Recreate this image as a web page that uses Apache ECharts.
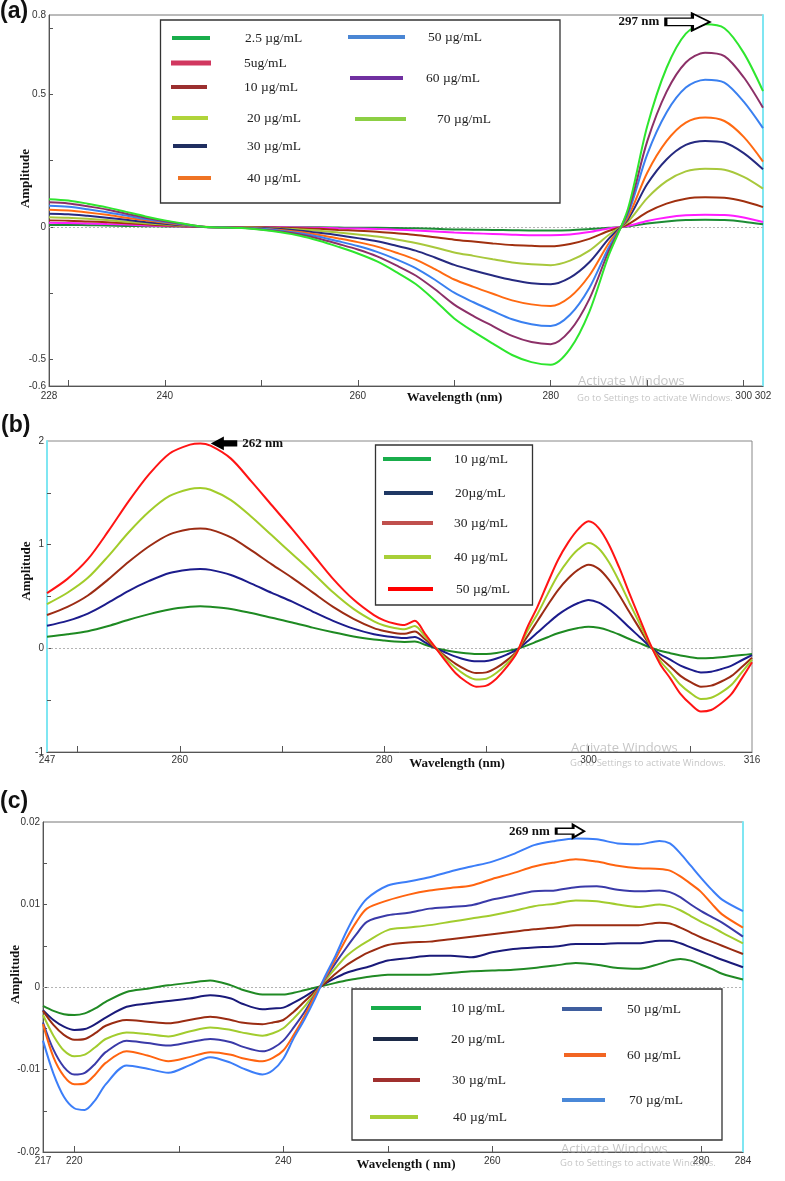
<!DOCTYPE html>
<html>
<head>
    <meta charset="UTF-8">
    <title>derivative spectra</title>
    <script src="https://cdn.jsdelivr.net/npm/echarts@6/dist/echarts.min.js"></script>
    <style>html, body { margin: 0; padding: 0; background: #fff; }</style>
</head>
<body>
    <div id="main" style="width:785px; height:1181px;"></div>
    <script>
        // ---- panel (a) ----
        var waveA = [228, 230, 232, 234, 236, 238, 240, 242, 244, 246, 248, 250, 252, 254, 256, 258, 260, 262, 264,
            266, 268, 270, 272, 274, 276, 278, 280, 282, 284, 286, 288, 290, 292, 294, 296, 298, 300, 302];
        var a25 = [0.008, 0.008, 0.007, 0.006, 0.004, 0.003, 0.002, 0.001, 0.000, 0.000, 0.000, 0.000, -0.001, -0.001, -0.001, -0.002, -0.003, -0.003, -0.004,
            -0.005, -0.007, -0.009, -0.010, -0.011, -0.012, -0.013, -0.013, -0.012, -0.008, -0.003, 0.002, 0.013, 0.021, 0.026, 0.027, 0.026, 0.020, 0.010];
        var a5 = [0.016, 0.015, 0.013, 0.011, 0.009, 0.006, 0.004, 0.002, 0.000, 0.000, 0.000, -0.001, -0.001, -0.002, -0.003, -0.005, -0.006, -0.008, -0.010,
            -0.013, -0.017, -0.021, -0.024, -0.026, -0.029, -0.031, -0.031, -0.028, -0.019, -0.006, 0.004, 0.023, 0.036, 0.044, 0.046, 0.045, 0.036, 0.019];
        var a10 = [0.025, 0.024, 0.021, 0.018, 0.014, 0.010, 0.006, 0.003, 0.000, 0.000, -0.001, -0.001, -0.003, -0.005, -0.007, -0.011, -0.014, -0.018, -0.024,
            -0.030, -0.039, -0.048, -0.055, -0.062, -0.068, -0.071, -0.073, -0.064, -0.045, -0.015, 0.010, 0.056, 0.088, 0.107, 0.112, 0.110, 0.097, 0.075];
        var a20 = [0.037, 0.035, 0.031, 0.026, 0.020, 0.014, 0.009, 0.004, 0.000, -0.001, -0.001, -0.003, -0.006, -0.009, -0.014, -0.021, -0.028, -0.036, -0.047,
            -0.060, -0.077, -0.096, -0.109, -0.122, -0.134, -0.141, -0.144, -0.127, -0.089, -0.030, 0.020, 0.109, 0.173, 0.210, 0.220, 0.216, 0.189, 0.145];
        var a30 = [0.050, 0.048, 0.042, 0.035, 0.027, 0.019, 0.012, 0.006, 0.000, -0.001, -0.002, -0.004, -0.008, -0.014, -0.022, -0.031, -0.042, -0.054, -0.071,
            -0.089, -0.115, -0.143, -0.164, -0.183, -0.200, -0.212, -0.216, -0.191, -0.133, -0.045, 0.029, 0.162, 0.255, 0.310, 0.325, 0.319, 0.279, 0.218];
        var a40 = [0.065, 0.062, 0.055, 0.046, 0.035, 0.025, 0.016, 0.007, 0.001, -0.001, -0.002, -0.006, -0.011, -0.019, -0.030, -0.043, -0.057, -0.074, -0.097,
            -0.123, -0.159, -0.198, -0.226, -0.252, -0.277, -0.292, -0.298, -0.264, -0.183, -0.062, 0.037, 0.205, 0.324, 0.394, 0.413, 0.400, 0.340, 0.247];
        var a50 = [0.080, 0.076, 0.067, 0.056, 0.043, 0.030, 0.019, 0.009, 0.001, -0.001, -0.003, -0.007, -0.014, -0.024, -0.037, -0.054, -0.072, -0.094, -0.122,
            -0.155, -0.199, -0.248, -0.284, -0.317, -0.348, -0.367, -0.374, -0.331, -0.230, -0.078, 0.049, 0.274, 0.432, 0.526, 0.556, 0.545, 0.473, 0.373];
        var a60 = [0.093, 0.089, 0.078, 0.066, 0.050, 0.035, 0.022, 0.011, 0.001, -0.002, -0.003, -0.009, -0.017, -0.028, -0.044, -0.064, -0.085, -0.111, -0.145,
            -0.183, -0.235, -0.293, -0.336, -0.374, -0.411, -0.434, -0.442, -0.391, -0.272, -0.092, 0.058, 0.323, 0.510, 0.621, 0.658, 0.645, 0.565, 0.450];
        var a70 = [0.105, 0.100, 0.088, 0.074, 0.057, 0.040, 0.025, 0.012, 0.001, -0.002, -0.004, -0.010, -0.020, -0.033, -0.052, -0.075, -0.100, -0.130, -0.170,
            -0.215, -0.277, -0.345, -0.395, -0.440, -0.483, -0.510, -0.520, -0.460, -0.320, -0.108, 0.068, 0.380, 0.600, 0.730, 0.765, 0.750, 0.657, 0.513];
        var xLabelsA = [228, 240, 260, 280, 300, 302];
        var xTicksA = [230, 240, 250, 260, 270, 280, 290, 300];
        var yLabelsA = [-0.6, -0.5, 0, 0.5, 0.8];
        var yTicksA = [-0.5, -0.25, 0, 0.25, 0.5, 0.75];

        // ---- panel (b) ----
        var waveB = [247, 249, 251, 253, 255, 257, 259, 261, 262, 263, 265, 267, 269, 271, 273, 275, 277, 279,
            280, 281, 282, 283, 284, 285, 286, 287, 288, 289, 290, 291, 292, 293, 294, 295, 296, 297, 298,
            299, 300, 301, 302, 303, 304, 305, 306, 307, 308, 309, 310, 311, 312, 313, 314, 315, 316];
        var b10 = [0.112, 0.135, 0.165, 0.215, 0.275, 0.33, 0.375, 0.4, 0.405, 0.4, 0.38, 0.34, 0.295, 0.25, 0.2, 0.155, 0.115, 0.085,
            0.075, 0.066, 0.062, 0.065, 0.035, 0.002, -0.018, -0.035, -0.048, -0.055, -0.054, -0.044, -0.027, -0.006, 0.028, 0.068, 0.107, 0.145, 0.175,
            0.197, 0.209, 0.198, 0.171, 0.133, 0.09, 0.05, 0.01, -0.024, -0.047, -0.069, -0.085, -0.096, -0.093, -0.085, -0.075, -0.065, -0.055];
        var b20 = [0.218, 0.265, 0.335, 0.44, 0.555, 0.65, 0.727, 0.76, 0.765, 0.757, 0.708, 0.625, 0.535, 0.45, 0.355, 0.265, 0.19, 0.135,
            0.118, 0.108, 0.1, 0.11, 0.057, 0.003, -0.04, -0.08, -0.11, -0.125, -0.122, -0.098, -0.06, -0.013, 0.065, 0.152, 0.24, 0.323, 0.388,
            0.437, 0.466, 0.441, 0.38, 0.296, 0.2, 0.11, 0.018, -0.057, -0.11, -0.167, -0.205, -0.232, -0.226, -0.2, -0.167, -0.115, -0.065];
        var b30 = [0.321, 0.40, 0.51, 0.665, 0.835, 0.985, 1.10, 1.15, 1.157, 1.145, 1.07, 0.945, 0.81, 0.68, 0.54, 0.40, 0.285, 0.195,
            0.167, 0.149, 0.14, 0.163, 0.087, 0.005, -0.077, -0.15, -0.206, -0.238, -0.232, -0.187, -0.116, -0.026, 0.113, 0.264, 0.416, 0.56, 0.673,
            0.759, 0.806, 0.766, 0.66, 0.515, 0.35, 0.19, 0.03, -0.09, -0.175, -0.266, -0.327, -0.37, -0.36, -0.32, -0.266, -0.18, -0.09];
        var b40 = [0.427, 0.536, 0.68, 0.89, 1.12, 1.32, 1.47, 1.537, 1.546, 1.53, 1.43, 1.27, 1.09, 0.91, 0.73, 0.54, 0.38, 0.26,
            0.22, 0.197, 0.185, 0.215, 0.115, 0.01, -0.097, -0.19, -0.26, -0.30, -0.293, -0.236, -0.147, -0.033, 0.165, 0.332, 0.523, 0.705, 0.847,
            0.955, 1.015, 0.963, 0.83, 0.647, 0.44, 0.24, 0.04, -0.12, -0.232, -0.352, -0.432, -0.489, -0.476, -0.424, -0.352, -0.232, -0.11];
        var b50 = [0.533, 0.67, 0.86, 1.13, 1.42, 1.68, 1.88, 1.965, 1.977, 1.955, 1.83, 1.61, 1.38, 1.15, 0.91, 0.67, 0.47, 0.32,
            0.27, 0.24, 0.225, 0.265, 0.14, 0.01, -0.12, -0.24, -0.32, -0.37, -0.36, -0.29, -0.18, -0.04, 0.20, 0.40, 0.63, 0.85, 1.02,
            1.15, 1.225, 1.16, 1.00, 0.78, 0.53, 0.29, 0.05, -0.15, -0.29, -0.44, -0.54, -0.61, -0.595, -0.53, -0.44, -0.29, -0.135];
        var xLabelsB = [247, 260, 280, 300, 316];
        var xTicksB = [250, 260, 270, 280, 290, 300, 310];
        var yLabelsB = [-1, 0, 1, 2];
        var yTicksB = [-0.5, 0, 0.5, 1, 1.5];

        // ---- panel (c) ----
        var waveC = [217, 218, 219, 220, 221, 222, 223, 225, 227, 229, 231, 233, 235, 236, 238, 239, 240, 241, 242, 243, 244,
            245, 246, 247, 248, 250, 252, 254, 256, 258, 260, 262, 264, 266, 268, 270, 272, 274, 276, 277, 278, 279, 280, 281, 282, 284];
        var c10 = [-0.0023, -0.0029, -0.0033, -0.0034, -0.0032, -0.0026, -0.0018, -0.0006, -0.0002, 0.0002, 0.0005, 0.0008, 0.0002, -0.0003, -0.0009, -0.0009, -0.0009, -0.0007, -0.0004, -0.0001, 0.0002,
            0.0005, 0.0008, 0.0010, 0.0012, 0.0015, 0.0015, 0.0015, 0.0017, 0.0019, 0.0020, 0.0021, 0.0023, 0.0026, 0.0029, 0.0027, 0.0023, 0.0022, 0.0028, 0.0032, 0.0034, 0.0032, 0.0027, 0.0022, 0.0016, 0.0009];
        var c20 = [-0.0028, -0.0040, -0.0048, -0.0052, -0.0051, -0.0045, -0.0037, -0.0024, -0.0020, -0.0017, -0.0014, -0.0010, -0.0014, -0.0020, -0.0027, -0.0026, -0.0025, -0.0019, -0.0012, -0.0004, 0.0004,
            0.0011, 0.0017, 0.0021, 0.0024, 0.0032, 0.0035, 0.0038, 0.0038, 0.0036, 0.0042, 0.0046, 0.0048, 0.0049, 0.0052, 0.0052, 0.0053, 0.0053, 0.0056, 0.0056, 0.0053, 0.0048, 0.0043, 0.0038, 0.0033, 0.0024];
        var c30 = [-0.0029, -0.0046, -0.0058, -0.0064, -0.0063, -0.0056, -0.0047, -0.0040, -0.0042, -0.0044, -0.0040, -0.0036, -0.0040, -0.0043, -0.0045, -0.0043, -0.0040, -0.0030, -0.0018, -0.0006, 0.0005,
            0.0016, 0.0026, 0.0034, 0.0041, 0.0051, 0.0054, 0.0055, 0.0058, 0.0061, 0.0064, 0.0067, 0.0070, 0.0072, 0.0075, 0.0075, 0.0075, 0.0075, 0.0078, 0.0077, 0.0072, 0.0066, 0.0060, 0.0055, 0.0050, 0.0040];
        var c40 = [-0.0034, -0.0059, -0.0077, -0.0084, -0.0082, -0.0073, -0.0063, -0.0055, -0.0057, -0.0060, -0.0054, -0.0049, -0.0052, -0.0055, -0.0059, -0.0056, -0.0050, -0.0038, -0.0024, -0.0008, 0.0008,
            0.0023, 0.0037, 0.0047, 0.0055, 0.0069, 0.0072, 0.0075, 0.0079, 0.0083, 0.0087, 0.0092, 0.0098, 0.0101, 0.0105, 0.0104, 0.0100, 0.0097, 0.0100, 0.0098, 0.0093, 0.0086, 0.0079, 0.0073, 0.0066, 0.0053];
        var c50 = [-0.0043, -0.0076, -0.0097, -0.0106, -0.0104, -0.0093, -0.0079, -0.0065, -0.0068, -0.0071, -0.0067, -0.0063, -0.0067, -0.0072, -0.0078, -0.0074, -0.0065, -0.0049, -0.0031, -0.0010, 0.0010,
            0.0029, 0.0047, 0.0064, 0.0079, 0.0087, 0.0090, 0.0095, 0.0097, 0.0099, 0.0106, 0.0111, 0.0116, 0.0117, 0.0121, 0.0122, 0.0118, 0.0116, 0.0117, 0.0115, 0.0109, 0.0100, 0.0092, 0.0085, 0.0078, 0.0061];
        var c60 = [-0.0045, -0.0085, -0.0108, -0.0118, -0.0117, -0.0106, -0.0092, -0.0078, -0.0083, -0.0090, -0.0085, -0.0079, -0.0082, -0.0086, -0.0090, -0.0086, -0.0077, -0.0058, -0.0036, -0.0011, 0.0011,
            0.0034, 0.0058, 0.0079, 0.0095, 0.0105, 0.0112, 0.0117, 0.0120, 0.0123, 0.0131, 0.0138, 0.0146, 0.0151, 0.0155, 0.0152, 0.0147, 0.0144, 0.0143, 0.0141, 0.0134, 0.0125, 0.0115, 0.0101, 0.0088, 0.0072];
        var c70 = [-0.0065, -0.0105, -0.0133, -0.0147, -0.0149, -0.0137, -0.0118, -0.0095, -0.0099, -0.0104, -0.0095, -0.0085, -0.0092, -0.0098, -0.0106, -0.0101, -0.0087, -0.0062, -0.0040, -0.0015, 0.0013,
            0.0038, 0.0066, 0.0090, 0.0107, 0.0123, 0.0128, 0.0133, 0.0140, 0.0146, 0.0152, 0.0161, 0.0172, 0.0177, 0.0180, 0.0179, 0.0174, 0.0173, 0.0177, 0.0174, 0.0162, 0.0147, 0.0132, 0.0118, 0.0106, 0.0092];
        var xLabelsC = [217, 220, 240, 260, 280, 284];
        var xTicksC = [220, 230, 240, 250, 260, 280];
        var yLabelsC = [-0.02, -0.01, 0, 0.01, 0.02];
        var yTicksC = [-0.015, -0.01, -0.005, 0, 0.005, 0.01, 0.015];

        var serif = 'Liberation Serif';
        var sans = 'Liberation Sans';
        var cyan = '#7fe6f2';

        var chart = echarts.init(document.getElementById('main'), null, {renderer: 'canvas'});

        function pairs(w, v) {
            return w.map(function (x, i) { return [x, v[i]]; });
        }

        function line(name, g, wave, vals, color, extra) {
            var s = {
                type: 'line', name: name, xAxisIndex: g, yAxisIndex: g,
                data: pairs(wave, vals), showSymbol: false, symbol: 'none', smooth: 0.3,
                lineStyle: {color: color, width: 2}, itemStyle: {color: color},
                emphasis: {disabled: true}
            };
            for (var k in extra) s[k] = extra[k];
            return s;
        }

        var zeroLine = {
            silent: true, symbol: 'none', z: 1, label: {show: false},
            lineStyle: {color: '#b4b4b4', type: [2, 2], width: 1},
            data: [{yAxis: 0}]
        };

        function arrowMark(coord, path, size, offset, fill, text, pos) {
            return {
                silent: true, z: 6,
                data: [{
                    coord: coord, symbol: path, symbolSize: size, symbolOffset: offset,
                    itemStyle: {color: fill, borderColor: '#000', borderWidth: 2},
                    label: {show: true, position: pos, distance: 5, formatter: text, color: '#111',
                        fontFamily: serif, fontWeight: 'bold', fontSize: 13}
                }]
            };
        }
        var rightArrow = 'path://M0,5L26,5L26,0L43,9L26,18L26,13L0,13Z';
        var leftArrow = 'path://M0,6L10,0L10,3L24,3L24,9L10,9L10,12Z';

        function xAx(g, min, max, labels, ticks, name, gap, shift, margin) {
            return {
                gridIndex: g, type: 'value', min: min, max: max,
                axisLine: {show: true, onZero: false, lineStyle: {color: '#555', width: 1}},
                axisTick: {show: true, inside: true, length: 6, customValues: ticks, lineStyle: {color: '#555'}},
                axisLabel: {customValues: labels, margin: margin, fontSize: 10, color: '#333', fontFamily: sans},
                splitLine: {show: false},
                name: name, nameLocation: 'middle', nameGap: gap, nameMoveOverlap: false,
                nameTextStyle: {fontFamily: serif, fontWeight: 'bold', fontSize: 13, color: '#111', padding: [0, 0, 0, shift]}
            };
        }

        function yAx(g, min, max, labels, ticks, gap, shift, lineColor) {
            return {
                gridIndex: g, type: 'value', min: min, max: max,
                axisLine: {show: true, onZero: false, lineStyle: {color: lineColor, width: lineColor === cyan ? 2 : 1}},
                axisTick: {show: true, inside: true, length: 4, customValues: ticks, lineStyle: {color: '#555'}},
                axisLabel: {customValues: labels, margin: 3, fontSize: 10, color: '#333', fontFamily: sans},
                splitLine: {show: false},
                name: 'Amplitude', nameLocation: 'middle', nameGap: gap, nameRotate: 90, nameMoveOverlap: false,
                nameTextStyle: {fontFamily: serif, fontWeight: 'bold', fontSize: 13, color: '#111', padding: [0, 0, 0, shift]}
            };
        }

        function sideAx(g, min, max) {
            return {
                gridIndex: g, type: 'value', min: min, max: max, position: 'right',
                axisLine: {show: true, onZero: false, lineStyle: {color: cyan, width: 2}},
                axisTick: {show: false}, axisLabel: {show: false}, splitLine: {show: false}
            };
        }

        function legendItem(name, color, x, yc, w, h, tx) {
            return {
                left: x, top: yc - 8, padding: 0, itemGap: 0, itemWidth: w, itemHeight: h,
                icon: 'rect', selectedMode: false,
                data: [{name: name, itemStyle: {color: color, borderWidth: 0}}],
                textStyle: {fontFamily: serif, fontSize: 13.5, color: '#222', lineHeight: 16,
                    padding: [0, 0, 0, tx - x - w - 5]}
            };
        }

        function winText(x, y, size, text) {
            return {
                type: 'text', x: x, y: y, z: 20, silent: true,
                style: {text: text, fill: 'rgba(150,150,150,0.55)', font: size + 'px "Open Sans"'}
            };
        }

        function box(x, y, w, h) {
            return {
                type: 'rect', z: 3, silent: true,
                shape: {x: x, y: y, width: w, height: h},
                style: {fill: '#fff', stroke: '#333', lineWidth: 1.3}
            };
        }

        var titleStyle = {fontFamily: sans, fontWeight: 'bold', fontSize: 23, color: '#111'};

        var option = {
            animation: false,
            backgroundColor: '#fff',
            title: [
                {text: '(a)', left: 0, top: 0, padding: 0, textStyle: titleStyle},
                {text: '(b)', left: 1, top: 414, padding: 0, textStyle: titleStyle},
                {text: '(c)', left: 0, top: 790, padding: 0, textStyle: titleStyle}
            ],
            grid: [
                {left: 49, top: 15, width: 714, height: 371, show: true, borderColor: '#777', borderWidth: 1, outerBoundsMode: 'none'},
                {left: 47, top: 441, width: 705, height: 311, show: true, borderColor: '#888', borderWidth: 1, outerBoundsMode: 'none'},
                {left: 43, top: 822, width: 700, height: 330, show: true, borderColor: '#777', borderWidth: 1, outerBoundsMode: 'none'}
            ],
            xAxis: [
                xAx(0, 228, 302, xLabelsA, xTicksA, 'Wavelength (nm)', 5, 97, 5),
                xAx(1, 247, 316, xLabelsB, xTicksB, 'Wavelength (nm)', 5, 115, 3),
                xAx(2, 217, 284, xLabelsC, xTicksC, 'Wavelength ( nm)', 6, 26, 4)
            ],
            yAxis: [
                yAx(0, -0.6, 0.8, yLabelsA, yTicksA, 17, 44, '#555'),
                yAx(1, -1, 2, yLabelsB, yTicksB, 14, 51, cyan),
                yAx(2, -0.02, 0.02, yLabelsC, yTicksC, 21, 25, '#555'),
                sideAx(0, -0.6, 0.8),
                sideAx(2, -0.02, 0.02)
            ],
            legend: [
                legendItem('2.5 µg/mL', '#19ad4b', 172, 38, 38, 4, 245),
                legendItem('5ug/mL', '#d1375f', 171, 63, 40, 5, 244),
                legendItem('10 µg/mL', '#9b2f2f', 171, 87, 36, 4, 244),
                legendItem('20 µg/mL', '#b0d43a', 172, 118, 36, 4, 247),
                legendItem('30 µg/mL', '#1f2e60', 173, 146, 34, 4, 247),
                legendItem('40 µg/mL', '#ef7324', 178, 178, 33, 4, 247),
                legendItem('50 µg/mL', '#4a86d4', 348, 37, 57, 4, 428),
                legendItem('60 µg/mL', '#7030a0', 350, 78, 53, 4, 426),
                legendItem('70 µg/mL', '#8ccf44', 355, 119, 51, 4, 437),

                legendItem('10 µg/mL', '#19ad4b', 383, 459, 48, 4, 454),
                legendItem('20µg/mL', '#1f3864', 384, 493, 49, 4, 455),
                legendItem('30 µg/mL', '#c0504d', 382, 523, 51, 4, 454),
                legendItem('40 µg/mL', '#a8cf38', 384, 557, 47, 4, 454),
                legendItem('50 µg/mL', '#ff0000', 388, 589, 45, 4, 456),

                legendItem('10 µg/mL', '#19ad4b', 371, 1008, 50, 4, 451),
                legendItem('20 µg/mL', '#1c2a48', 373, 1039, 45, 4, 451),
                legendItem('30 µg/mL', '#a0302e', 373, 1080, 47, 4, 452),
                legendItem('40 µg/mL', '#a8cf38', 370, 1117, 48, 4, 453),
                legendItem('50 µg/mL', '#3f5e9e', 562, 1009, 40, 4, 627),
                legendItem('60 µg/mL', '#f26522', 564, 1055, 42, 4, 627),
                legendItem('70 µg/mL', '#4a88d8', 562, 1100, 43, 4, 629)
            ],
            graphic: [
                box(160.5, 20, 399.5, 183),
                box(375.5, 445, 157, 160),
                box(352, 989, 370, 151),
                winText(578, 375, 13, 'Activate Windows'),
                winText(577, 393, 9.5, 'Go to Settings to activate Windows.'),
                winText(571, 742, 13, 'Activate Windows'),
                winText(570, 758, 9.5, 'Go to Settings to activate Windows.'),
                winText(561, 1143, 13, 'Activate Windows'),
                winText(560, 1158, 9.5, 'Go to Settings to activate Windows.')
            ],
            series: [
                line('2.5 µg/mL', 0, waveA, a25, '#1d8c35', {markLine: zeroLine}),
                line('5ug/mL', 0, waveA, a5, '#ff1cff'),
                line('10 µg/mL', 0, waveA, a10, '#a0300f'),
                line('20 µg/mL', 0, waveA, a20, '#a8c83c'),
                line('30 µg/mL', 0, waveA, a30, '#262a80'),
                line('40 µg/mL', 0, waveA, a40, '#ff6a12'),
                line('50 µg/mL', 0, waveA, a50, '#3a80f0'),
                line('60 µg/mL', 0, waveA, a60, '#8c3068'),
                line('70 µg/mL', 0, waveA, a70, '#2ee62e', {
                    markPoint: arrowMark([296.8, 0.77], rightArrow, [44, 17], [-25, -1], '#fff', '297 nm', 'left')
                }),

                line('10 µg/mL', 1, waveB, b10, '#1e8a22', {markLine: zeroLine}),
                line('20µg/mL', 1, waveB, b20, '#1c1c8c'),
                line('30 µg/mL', 1, waveB, b30, '#9c2c14'),
                line('40 µg/mL', 1, waveB, b40, '#a2cc2a'),
                line('50 µg/mL', 1, waveB, b50, '#ff1414', {
                    markPoint: arrowMark([262, 1.977], leftArrow, [23, 10], [24, 0], '#000', '262 nm', 'right')
                }),

                line('10 µg/mL', 2, waveC, c10, '#208a24', {markLine: zeroLine}),
                line('20 µg/mL', 2, waveC, c20, '#1a1a7a'),
                line('30 µg/mL', 2, waveC, c30, '#9a2c12'),
                line('40 µg/mL', 2, waveC, c40, '#a2cc2e'),
                line('50 µg/mL', 2, waveC, c50, '#3a3aa8'),
                line('60 µg/mL', 2, waveC, c60, '#ff6410'),
                line('70 µg/mL', 2, waveC, c70, '#3c7ef8', {
                    markPoint: arrowMark([268.8, 0.0181], rightArrow, [28, 13], [-14, -6.5], '#fff', '269 nm', 'left')
                })
            ]
        };

        chart.setOption(option);
    </script>
</body>
</html>
